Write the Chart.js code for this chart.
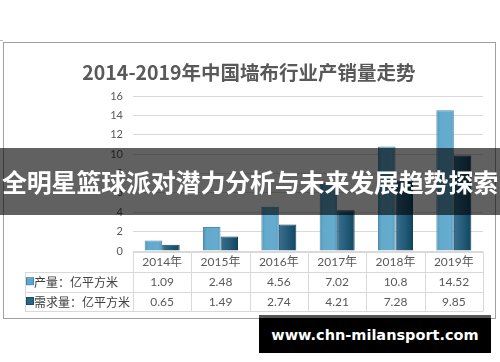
<!DOCTYPE html>
<html>
<head>
<meta charset="utf-8">
<script src="https://cdn.jsdelivr.net/npm/chart.js@4"></script>
<style>
  html, body { margin: 0; padding: 0; background: #fff; }
  #wrap { position: relative; width: 500px; height: 362px; overflow: hidden; }
  #c { position: absolute; left: 0; top: 0; }
  #frame { position: absolute; left: 3px; top: 42px; width: 491px; height: 275px; border: 1px solid #a0a0a0; box-sizing: content-box; }
  #corner { position: absolute; left: 0; top: 40px; width: 3px; height: 1px; background: #c0c0c0; }
  #title { position: absolute; left: 0; top: 58px; width: 498px; text-align: center; font: bold 19.5px "Noto Sans CJK SC", sans-serif; color: #595959; line-height: 28px; white-space: nowrap; }
  #banner { position: absolute; left: 0; top: 148px; width: 500px; height: 67px; background: rgba(0,0,0,0.62); color: #fff; text-align: center; font: bold 25px "Noto Sans CJK SC", sans-serif; line-height: 67px; white-space: nowrap; letter-spacing: -0.2px; }
  #site { position: absolute; left: 259px; top: 315px; width: 232px; height: 35px; border-top: 3px solid #555; background: #000; color: #fff; text-align: center; font: bold 14.5px "DejaVu Sans", sans-serif; line-height: 35px; white-space: nowrap; }
</style>
</head>
<body>
<div id="wrap">
  <canvas id="c" width="500" height="362"></canvas>
  <div id="frame"></div>
  <div id="corner"></div>
  <div id="title">2014-2019年中国墙布行业产销量走势</div>
  <div id="banner">全明星篮球派对潜力分析与未来发展趋势探索</div>
  <div id="site">www.chn-milansport.com</div>
</div>
<script>
const categories = ['2014年', '2015年', '2016年', '2017年', '2018年', '2019年'];
const seriesNames = ['产量：亿平方米', '需求量：亿平方米'];
const outputValues = [1.09, 2.48, 4.56, 7.02, 10.8, 14.52];
const demandValues = [0.65, 1.49, 2.74, 4.21, 7.28, 9.85];
const yMin = 0, yMax = 16, yStep = 2;

const seriesColors = ['#5fa6c9', '#2a6584'];
const catPct = 0.6;

function barGradient(ctx, which) {
  const chart = ctx.chart;
  const xs = chart.scales.x;
  if (!xs || !chart.chartArea || ctx.dataIndex === undefined) return seriesColors[which];
  const center = xs.getPixelForValue(ctx.dataIndex);
  const catW = (chart.chartArea.right - chart.chartArea.left) / categories.length;
  const w = catW * catPct / 2;
  const left = which === 0 ? center - w : center;
  const g = chart.ctx.createLinearGradient(left, 0, left + w, 0);
  if (which === 0) {
    g.addColorStop(0, '#4f93b6');
    g.addColorStop(0.2, '#62a9cc');
    g.addColorStop(0.8, '#66acce');
    g.addColorStop(1, '#5598ba');
  } else {
    g.addColorStop(0, '#386f8e');
    g.addColorStop(0.5, '#245c7a');
    g.addColorStop(1, '#0f465f');
  }
  return g;
}

const tablePlugin = {
  id: 'dataTable',
  afterDraw(chart) {
    const ctx = chart.ctx;
    const area = chart.chartArea;
    const xs = chart.scales.x;
    const catW = (area.right - area.left) / categories.length;
    const rowH = 19.8;
    const top = area.bottom + 1;
    const tableLeft = 25;
    ctx.save();
    ctx.strokeStyle = '#d9d9d9';
    ctx.lineWidth = 1;
    ctx.beginPath();
    ctx.moveTo(area.left, Math.round(top) + 0.5); ctx.lineTo(area.right, Math.round(top) + 0.5);
    for (let r = 1; r <= 3; r++) {
      const y = Math.round(top + r * rowH) + 0.5;
      ctx.moveTo(tableLeft, y); ctx.lineTo(area.right, y);
    }
    for (let i = 0; i <= categories.length; i++) {
      const x = Math.round(area.left + i * catW) + 0.5;
      ctx.moveTo(x, top); ctx.lineTo(x, top + 3 * rowH);
    }
    ctx.moveTo(tableLeft + 0.5, top + rowH); ctx.lineTo(tableLeft + 0.5, top + 3 * rowH);
    ctx.stroke();

    ctx.textBaseline = 'middle';
    ctx.textAlign = 'center';
    ctx.fillStyle = '#595959';
    ctx.font = '12px Lato, "Noto Sans CJK SC", sans-serif';
    const rows = [outputValues, demandValues];
    categories.forEach((c, i) => {
      const cx = xs.getPixelForValue(i);
      ctx.fillText(c, cx, top + rowH / 2 + 0.5);
      rows.forEach((vals, r) => {
        ctx.fillText(String(vals[i]), cx, top + rowH * (r + 1.5) + 0.5);
      });
    });
    ctx.textAlign = 'left';
    ctx.font = '12px "Noto Sans CJK SC", sans-serif';
    seriesNames.forEach((name, r) => {
      const cy = top + rowH * (r + 1.5);
      ctx.fillStyle = seriesColors[r];
      ctx.fillRect(27, cy - 3.5, 6, 6);
      ctx.strokeStyle = r === 0 ? '#3f86aa' : '#1b4c66';
      ctx.strokeRect(26.5, cy - 4, 7, 7);
      ctx.fillStyle = '#404040';
      ctx.fillText(name, 34, cy + 0.5);
    });
    ctx.restore();
  }
};

new Chart(document.getElementById('c'), {
  type: 'bar',
  data: {
    labels: categories,
    datasets: [
      { label: seriesNames[0], data: outputValues, backgroundColor: (c) => barGradient(c, 0), borderColor: '#4a8db0', borderWidth: 1, barPercentage: 1, categoryPercentage: catPct },
      { label: seriesNames[1], data: demandValues, backgroundColor: (c) => barGradient(c, 1), borderColor: '#173f55', borderWidth: 1, barPercentage: 1, categoryPercentage: catPct }
    ]
  },
  options: {
    responsive: false,
    animation: false,
    devicePixelRatio: 1,
    layout: { padding: { top: 96, right: 17, bottom: 111, left: 0 } },
    plugins: { legend: { display: false }, title: { display: false }, tooltip: { enabled: false } },
    scales: {
      x: { display: false, offset: true },
      y: {
        min: yMin, max: yMax,
        afterFit(scale) { scale.width = 133; },
        border: { display: false },
        grid: { color: '#d9d9d9', drawTicks: false },
        ticks: { stepSize: yStep, padding: 10, color: '#595959', font: { family: 'Lato, sans-serif', size: 11 } }
      }
    }
  },
  plugins: [tablePlugin]
});
</script>
</body>
</html>
